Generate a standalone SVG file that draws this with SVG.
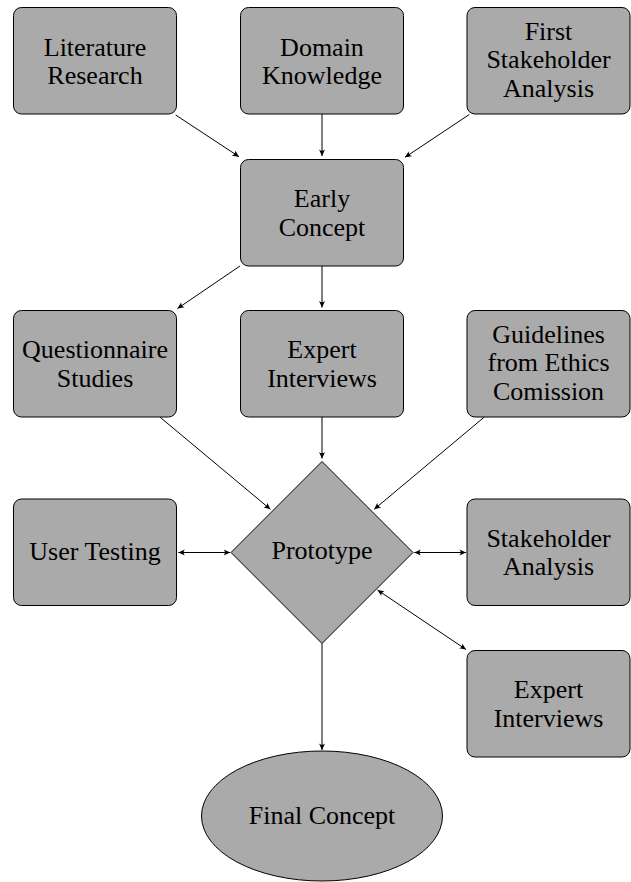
<svg xmlns="http://www.w3.org/2000/svg" width="631" height="882" viewBox="0 0 631 882">
  <style>
    .box { fill: #aaaaaa; stroke: #000; stroke-width: 1; }
    .lbl { font-family: "Liberation Serif", "Times New Roman", serif; font-size: 26px; fill: #000; text-anchor: middle; }
    .edge { stroke: #000; stroke-width: 1; fill: none; marker-end: url(#tip); }
    .both { marker-start: url(#tip); }
  </style>
  <defs>
    <marker id="tip" viewBox="-7 -4 8 8" refX="0" refY="0" markerWidth="8" markerHeight="8" markerUnits="userSpaceOnUse" orient="auto-start-reverse">
      <path d="M0,0 L-6.5,-3 Q-4,0 -6.5,3 Z" fill="#000"/>
    </marker>
  </defs>

  <!-- top row sources -->
  <g id="literature">
    <rect class="box" x="13.5" y="7.5" width="163" height="106.5" rx="8"/>
    <text class="lbl" x="95" y="55.6">Literature</text>
    <text class="lbl" x="95" y="84.1">Research</text>
  </g>
  <g id="domain">
    <rect class="box" x="240.5" y="7.5" width="163" height="106.5" rx="8"/>
    <text class="lbl" x="322" y="55.6">Domain</text>
    <text class="lbl" x="322" y="84.1">Knowledge</text>
  </g>
  <g id="first-stakeholder">
    <rect class="box" x="467" y="7.5" width="163" height="106.5" rx="8"/>
    <text class="lbl" x="548.5" y="39.5">First</text>
    <text class="lbl" x="548.5" y="68.3">Stakeholder</text>
    <text class="lbl" x="548.5" y="97">Analysis</text>
  </g>

  <g id="early-concept">
    <rect class="box" x="240.5" y="159.5" width="163" height="106.5" rx="8"/>
    <text class="lbl" x="322" y="207.1">Early</text>
    <text class="lbl" x="322" y="235.6">Concept</text>
  </g>

  <!-- second row -->
  <g id="questionnaire">
    <rect class="box" x="13.5" y="310.5" width="163" height="106.5" rx="8"/>
    <text class="lbl" x="95" y="358.1">Questionnaire</text>
    <text class="lbl" x="95" y="386.6">Studies</text>
  </g>
  <g id="expert-interviews-1">
    <rect class="box" x="240.5" y="310.5" width="163" height="106.5" rx="8"/>
    <text class="lbl" x="322" y="358.1">Expert</text>
    <text class="lbl" x="322" y="386.6">Interviews</text>
  </g>
  <g id="guidelines">
    <rect class="box" x="467" y="310.5" width="163" height="106.5" rx="8"/>
    <text class="lbl" x="548.5" y="342.6">Guidelines</text>
    <text class="lbl" x="548.5" y="371.3">from Ethics</text>
    <text class="lbl" x="548.5" y="400">Comission</text>
  </g>

  <!-- prototype row -->
  <g id="user-testing">
    <rect class="box" x="13.5" y="499" width="163" height="106.5" rx="8"/>
    <text class="lbl" x="95" y="559.5">User Testing</text>
  </g>
  <g id="prototype">
    <polygon class="box" points="322,461.5 413,552.5 322,643.5 231,552.5"/>
    <text class="lbl" x="322" y="559">Prototype</text>
  </g>
  <g id="stakeholder-analysis">
    <rect class="box" x="467" y="499" width="163" height="106.5" rx="8"/>
    <text class="lbl" x="548.5" y="546.6">Stakeholder</text>
    <text class="lbl" x="548.5" y="575.1">Analysis</text>
  </g>
  <g id="expert-interviews-2">
    <rect class="box" x="467" y="650.5" width="163" height="106.5" rx="8"/>
    <text class="lbl" x="548.5" y="698.1">Expert</text>
    <text class="lbl" x="548.5" y="726.6">Interviews</text>
  </g>

  <g id="final-concept">
    <ellipse class="box" cx="322" cy="816" rx="120.5" ry="65"/>
    <text class="lbl" x="322" y="823.5">Final Concept</text>
  </g>

  <!-- connectors -->
  <g id="connectors">
    <line class="edge" x1="175.7" y1="115" x2="239" y2="156.7"/>
    <line class="edge" x1="322" y1="114" x2="322" y2="156"/>
    <line class="edge" x1="469.3" y1="114.5" x2="405" y2="157.3"/>
    <line class="edge" x1="240" y1="266" x2="177.5" y2="308.5"/>
    <line class="edge" x1="322" y1="266" x2="322" y2="307.5"/>
    <line class="edge" x1="160.2" y1="417.3" x2="270.4" y2="509.3"/>
    <line class="edge" x1="322" y1="417" x2="322" y2="458.5"/>
    <line class="edge" x1="484" y1="417.3" x2="374.2" y2="509.3"/>
    <line class="edge both" x1="178.3" y1="552.5" x2="230.2" y2="552.5"/>
    <line class="edge both" x1="414.3" y1="552.5" x2="466" y2="552.5"/>
    <line class="edge both" x1="377.5" y1="590" x2="466" y2="649.5"/>
    <line class="edge" x1="322" y1="643.5" x2="322" y2="750"/>
  </g>
</svg>
